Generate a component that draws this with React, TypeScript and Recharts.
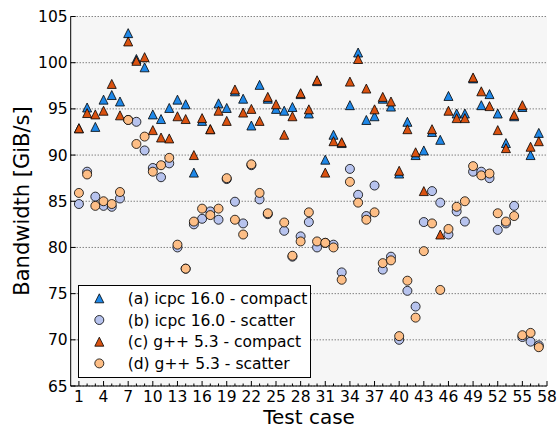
import React from 'react';
import { ScatterChart, Scatter, XAxis, YAxis, CartesianGrid, Legend } from 'recharts';

const CASES = [
  1, 2, 3, 4, 5, 6, 7, 8, 9, 10, 11, 12, 13, 14, 15, 16, 17, 18, 19, 20,
  21, 22, 23, 24, 25, 26, 27, 28, 29, 30, 31, 32, 33, 34, 35, 36, 37, 38, 39, 40,
  41, 42, 43, 44, 45, 46, 47, 48, 49, 50, 51, 52, 53, 54, 55, 56, 57,
];

const ICPC_COMPACT = [
  92.9, 95.15, 93.05, 96.0, 96.5, 95.8, 103.2, 100.4, 99.5, 94.4,
  93.9, 95.1, 96.0, 95.5, 88.1, 93.7, 92.8, 95.6, 95.1, 96.9,
  96.1, 93.2, 97.6, 96.1, 95.0, 94.8, 95.2, 96.6, 94.5, 98.0,
  89.5, 92.2, 91.3, 95.4, 101.1, 93.8, 94.2, 96.1, 95.25, 88.0,
  93.6, 90.0, 90.5, 92.5, 91.65, 96.4, 94.5, 94.5, 98.3, 95.4,
  96.6, 94.5, 91.3, 94.2, 95.2, 90.0, 92.4,
];

const ICPC_SCATTER = [
  84.7, 88.2, 85.5, 84.5, 84.4, 85.3, 93.8, 93.6, 90.5, 88.6,
  87.6, 89.1, 80.0, 77.7, 82.5, 83.1, 83.9, 83.0, 87.4, 84.95,
  82.6, 88.9, 85.2, 83.6, 71.0, 81.8, 79.0, 81.2, 82.75, 80.0,
  80.5, 80.3, 77.3, 88.5, 85.7, 83.4, 86.7, 77.6, 79.0, 70.0,
  75.3, 73.6, 82.75, 86.1, 84.85, 81.4, 83.9, 82.8, 88.2, 88.2,
  87.5, 81.9, 82.6, 84.5, 70.3, 69.8, 69.4,
];

const GPP_COMPACT = [
  92.9, 94.55, 94.4, 94.8, 97.7, 94.3, 102.3, 100.2, 100.6, 92.7,
  91.9, 91.8, 94.2, 93.9, 90.0, 94.0, 92.8, 94.8, 93.7, 97.1,
  94.6, 95.0, 93.7, 96.3, 95.5, 92.2, 94.2, 96.7, 94.95, 98.1,
  88.1, 91.5, 91.4, 97.95, 100.4, 97.2, 94.95, 96.3, 95.8, 88.3,
  92.8, 90.3, 86.1, 92.8, 81.4, 94.8, 94.0, 94.0, 98.4, 96.9,
  95.3, 92.7, 90.75, 94.35, 95.4, 90.9, 91.5,
];

const GPP_SCATTER = [
  85.9, 87.9, 84.5, 85.0, 84.7, 86.0, 93.8, 91.2, 92.0, 88.2,
  88.9, 89.7, 80.3, 77.7, 82.8, 84.2, 83.5, 84.2, 87.5, 83.0,
  81.4, 89.0, 85.9, 83.7, 71.5, 82.7, 79.1, 80.65, 83.8, 80.65,
  80.5, 80.0, 76.5, 87.1, 84.85, 83.0, 83.8, 78.3, 78.6, 70.4,
  76.4, 72.4, 79.6, 82.6, 75.4, 82.0, 84.4, 85.0, 88.8, 87.8,
  88.0, 83.7, 82.8, 83.4, 70.5, 70.75, 69.2,
];

const X_MAJOR_TICKS = [1, 4, 7, 10, 13, 16, 19, 22, 25, 28, 31, 34, 37, 40, 43, 46, 49, 52, 55, 58];
const X_MINOR_TICKS = [
  1, 2, 3, 4, 5, 6, 7, 8, 9, 10, 11, 12, 13, 14, 15, 16, 17, 18, 19, 20,
  21, 22, 23, 24, 25, 26, 27, 28, 29, 30, 31, 32, 33, 34, 35, 36, 37, 38, 39, 40,
  41, 42, 43, 44, 45, 46, 47, 48, 49, 50, 51, 52, 53, 54, 55, 56, 57, 58,
];
const Y_TICKS = [65, 70, 75, 80, 85, 90, 95, 100, 105];

const SERIES_NAMES = [
  '(a) icpc 16.0 - compact',
  '(b) icpc 16.0 - scatter',
  '(c) g++ 5.3 - compact',
  '(d) g++ 5.3 - scatter',
];

const FONT = '"DejaVu Sans", sans-serif';
const BLUE_TRI = '#1f88e8';
const BLUE_CIRC = '#b7c3ee';
const ORANGE_TRI = '#da5210';
const ORANGE_CIRC = '#fdbe86';

const SERIES = [
  { name: SERIES_NAMES[0], values: ICPC_COMPACT, color: BLUE_TRI, marker: 'tri' },
  { name: SERIES_NAMES[1], values: ICPC_SCATTER, color: BLUE_CIRC, marker: 'circ' },
  { name: SERIES_NAMES[2], values: GPP_COMPACT, color: ORANGE_TRI, marker: 'tri' },
  { name: SERIES_NAMES[3], values: GPP_SCATTER, color: ORANGE_CIRC, marker: 'circ' },
];

const TRI_SIZE = 9;
const CIRC_R = 4.5;

function TriMark({ cx, cy, fill }: { cx: number; cy: number; fill: string }) {
  const h = TRI_SIZE / 2;
  const pts = `${cx},${cy - h} ${cx - h},${cy + h} ${cx + h},${cy + h}`;
  return <polygon points={pts} fill={fill} stroke="#000" strokeWidth={0.8} strokeLinejoin="miter" />;
}

function CircMark({ cx, cy, fill }: { cx: number; cy: number; fill: string }) {
  return <circle cx={cx} cy={cy} r={CIRC_R} fill={fill} stroke="#000" strokeWidth={0.8} />;
}

const makeShape = (marker: string, color: string) => (props: any) => {
  const { cx, cy } = props;
  if (cx == null || cy == null) return <g />;
  return marker === 'tri' ? <TriMark cx={cx} cy={cy} fill={color} /> : <CircMark cx={cx} cy={cy} fill={color} />;
};

const BottomTick = (props: any) => {
  const { x, y, payload } = props;
  const v = payload.value;
  const major = X_MAJOR_TICKS.includes(v);
  return (
    <g>
      <line x1={x} x2={x} y1={y} y2={y - (major ? 5 : 2.5)} stroke="#000" strokeWidth={1} />
      {major && (
        <text x={x} y={y + 5} dy="0.71em" textAnchor="middle" fontSize={15.5} fill="#000" fontFamily={FONT}>
          {v}
        </text>
      )}
    </g>
  );
};

const TopTick = (props: any) => {
  const { x, y } = props;
  return <line x1={x} x2={x} y1={y} y2={y + 5} stroke="#000" strokeWidth={1} />;
};

const LeftTick = (props: any) => {
  const { x, y, payload } = props;
  return (
    <g>
      <line x1={x} x2={x + 5} y1={y} y2={y} stroke="#000" strokeWidth={1} />
      <text x={x - 3} y={y} dy="0.36em" textAnchor="end" fontSize={15.5} fill="#000" fontFamily={FONT}>
        {payload.value}
      </text>
    </g>
  );
};

const RightTick = (props: any) => {
  const { x, y } = props;
  return <line x1={x} x2={x - 5} y1={y} y2={y} stroke="#000" strokeWidth={1} />;
};

const YLabel = () => (
  <text
    transform="translate(22,201) rotate(-90)"
    textAnchor="middle"
    dominantBaseline="central"
    fontSize={21}
    fill="#000"
    fontFamily={FONT}
  >
    Bandwidth [GiB/s]
  </text>
);

const XLabel = () => (
  <text x={309} y={424.2} textAnchor="middle" fontSize={20} fill="#000" fontFamily={FONT}>
    Test case
  </text>
);

const LegendBox = () => (
  <svg width={233} height={93} style={{ display: 'block' }}>
    <rect x={0.5} y={0.5} width={232} height={92} fill="#fff" stroke="#000" strokeWidth={1} />
    {SERIES.map((s, i) => {
      const cy = 13.3 + i * 21.7;
      return (
        <g key={s.name}>
          {s.marker === 'tri' ? <TriMark cx={21.3} cy={cy} fill={s.color} /> : <CircMark cx={21.3} cy={cy} fill={s.color} />}
          <text x={49.7} y={cy} dy="0.36em" fontSize={15.5} fill="#000" fontFamily={FONT}>
            {s.name}
          </text>
        </g>
      );
    })}
  </svg>
);

export default function App() {
  return (
    <div style={{ position: 'absolute', left: 0, top: 0, width: 560, height: 429, background: '#fff', fontFamily: FONT }}>
      <ScatterChart width={560} height={429} margin={{ top: 16.5, right: 13, bottom: 0, left: 0 }}>
        <CartesianGrid
          xAxisId="b"
          yAxisId="l"
          vertical={false}
          fill="#f6f6f6"
          stroke="#222"
          strokeWidth={0.8}
          strokeDasharray="1 2"
        />
        <XAxis
          xAxisId="b"
          type="number"
          dataKey="x"
          domain={[0, 58]}
          ticks={X_MINOR_TICKS}
          interval={0}
          height={43}
          tickLine={false}
          tickSize={0}
          tickMargin={0}
          axisLine={{ stroke: '#000', strokeWidth: 1 }}
          tick={<BottomTick />}
          label={<XLabel />}
        />
        <XAxis
          xAxisId="t"
          orientation="top"
          type="number"
          dataKey="x"
          domain={[0, 58]}
          ticks={X_MAJOR_TICKS}
          interval={0}
          height={0}
          tickLine={false}
          tickSize={0}
          tickMargin={0}
          axisLine={{ stroke: '#000', strokeWidth: 1 }}
          tick={<TopTick />}
        />
        <YAxis
          yAxisId="l"
          type="number"
          dataKey="y"
          domain={[65, 105]}
          ticks={Y_TICKS}
          interval={0}
          width={70.7}
          tickLine={false}
          tickSize={0}
          tickMargin={0}
          axisLine={{ stroke: '#000', strokeWidth: 1 }}
          tick={<LeftTick />}
          label={<YLabel />}
        />
        <YAxis
          yAxisId="r"
          orientation="right"
          type="number"
          dataKey="y"
          domain={[65, 105]}
          ticks={Y_TICKS}
          interval={0}
          width={0}
          tickLine={false}
          tickSize={0}
          tickMargin={0}
          axisLine={{ stroke: '#000', strokeWidth: 1 }}
          tick={<RightTick />}
        />
        {SERIES.map((s) => (
          <Scatter
            key={s.name}
            name={s.name}
            xAxisId="b"
            yAxisId="l"
            data={CASES.map((c, i) => ({ x: c, y: s.values[i] }))}
            fill={s.color}
            shape={makeShape(s.marker, s.color)}
            isAnimationActive={false}
          />
        ))}
        <Legend
          layout="vertical"
          align="center"
          verticalAlign="middle"
          content={() => <LegendBox />}
          wrapperStyle={{ left: 78, top: 285, width: 233, height: 93 }}
        />
      </ScatterChart>
    </div>
  );
}
